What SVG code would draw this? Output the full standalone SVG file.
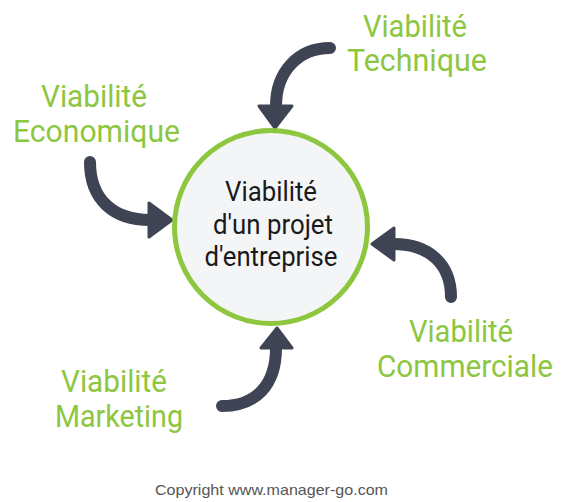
<svg xmlns="http://www.w3.org/2000/svg" width="564" height="502" viewBox="0 0 564 502">
<style>
.lbl{font-family:Roboto,"Liberation Sans",sans-serif;font-size:32px;fill:#8dc63f;text-anchor:middle}
.ctr{font-family:Roboto,"Liberation Sans",sans-serif;font-size:28px;fill:#1a1a1a;text-anchor:middle}
.shaft{fill:none;stroke:#3e4453;stroke-width:12;stroke-linecap:round}
.head{fill:#3e4453;stroke:#3e4453;stroke-width:3;stroke-linejoin:round}
.copy{font-family:"Liberation Sans",Arial,sans-serif;font-size:15px;fill:#555}
</style>
<rect width="564" height="502" fill="#ffffff"/>
<g id="connectors">
<path class="shaft" d="M330,48 C298,48 276,72 276,106"/>
<polygon class="head" points="259,106 292,106 275,128"/>
<path class="shaft" d="M90,162 C90,200 114,220 150,220"/>
<polygon class="head" points="149,203 149,237 172,220"/>
<path class="shaft" d="M451,297 C451,265 430,244 394,244"/>
<polygon class="head" points="394,228 394,260 372,244"/>
<path class="shaft" d="M222,406 C256,406 276,385 276,348"/>
<polygon class="head" points="261,348 292,348 277,328"/>
</g>
<g id="center">
<circle cx="271" cy="227" r="96.5" fill="#f4f5f7" stroke="#8dc63f" stroke-width="5"/>
<text class="ctr" x="271" y="201" textLength="92" lengthAdjust="spacingAndGlyphs">Viabilité</text>
<text class="ctr" x="273" y="234" textLength="120" lengthAdjust="spacingAndGlyphs">d'un projet</text>
<text class="ctr" x="271" y="266" textLength="133" lengthAdjust="spacingAndGlyphs">d'entreprise</text>
</g>
<g id="technique">
<text class="lbl" x="415" y="37" textLength="104" lengthAdjust="spacingAndGlyphs">Viabilité</text>
<text class="lbl" x="417" y="71" textLength="140" lengthAdjust="spacingAndGlyphs">Technique</text>
</g>
<g id="economique">
<text class="lbl" x="94" y="107" textLength="106" lengthAdjust="spacingAndGlyphs">Viabilité</text>
<text class="lbl" x="96.5" y="142" textLength="167" lengthAdjust="spacingAndGlyphs">Economique</text>
</g>
<g id="commerciale">
<text class="lbl" x="461" y="342" textLength="104" lengthAdjust="spacingAndGlyphs">Viabilité</text>
<text class="lbl" x="465" y="377" textLength="176" lengthAdjust="spacingAndGlyphs">Commerciale</text>
</g>
<g id="marketing">
<text class="lbl" x="114" y="392" textLength="106" lengthAdjust="spacingAndGlyphs">Viabilité</text>
<text class="lbl" x="119" y="427" textLength="128" lengthAdjust="spacingAndGlyphs">Marketing</text>
</g>
<text class="copy" x="155" y="495" textLength="233" lengthAdjust="spacingAndGlyphs">Copyright www.manager-go.com</text>
</svg>
